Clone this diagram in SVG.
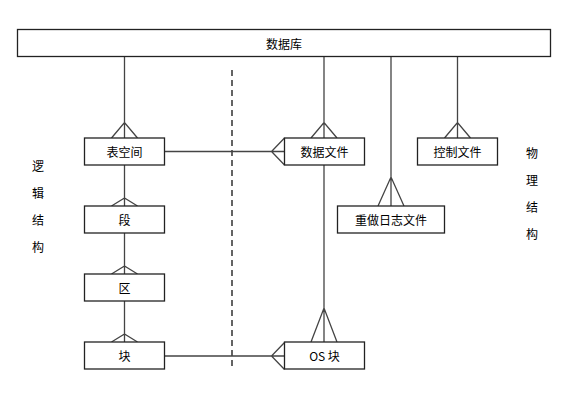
<svg xmlns="http://www.w3.org/2000/svg" width="582" height="400" viewBox="0 0 582 400">
<style>
.box{fill:#fff;stroke:#222;stroke-width:1.3}
.ln{fill:none;stroke:#444;stroke-width:1.3}
.dash{fill:none;stroke:#111;stroke-width:1.3;stroke-dasharray:6,4}
text{font-family:"Noto Sans CJK SC","Liberation Sans",sans-serif;font-size:12px;fill:#000;text-anchor:middle;dominant-baseline:central}
</style>
<rect width="582" height="400" fill="#fff"/>
<g id="connectors">
<path class="dash" d="M232 70V370"/>
<path class="ln" d="M124.5 56V138M111.5 138L124.5 122.5L137.5 138"/>
<path class="ln" d="M124.5 165V206M111.5 206L124.5 198L137.5 206"/>
<path class="ln" d="M124.5 233V274M111.5 274L124.5 266L137.5 274"/>
<path class="ln" d="M124.5 301V342M111.5 342L124.5 334L137.5 342"/>
<path class="ln" d="M324 56V138M311 138L324 122.5L337 138"/>
<path class="ln" d="M391 56V206M378 206L391 177L404 206"/>
<path class="ln" d="M457.5 56V138M444.5 138L457.5 122.5L470.5 138"/>
<path class="ln" d="M324 165V342M311 342L324 308L337 342"/>
<path class="ln" d="M164.5 151.5H284.5M284.5 138L271.5 151.5L284.5 165"/>
<path class="ln" d="M164.5 356H284.5M284.5 342.5L271.5 356L284.5 369.5"/>
</g>
<g id="db"><rect class="box" x="17.5" y="29.5" width="533" height="27"/><text x="284" y="43">数据库</text></g>
<g id="tablespace"><rect class="box" x="84.5" y="138" width="80" height="27"/><text x="124.5" y="151.5">表空间</text></g>
<g id="segment"><rect class="box" x="84.5" y="206" width="80" height="27"/><text x="124.5" y="219.5">段</text></g>
<g id="extent"><rect class="box" x="84.5" y="274" width="80" height="27"/><text x="124.5" y="287.5">区</text></g>
<g id="block"><rect class="box" x="84.5" y="342" width="80" height="27"/><text x="124.5" y="355.5">块</text></g>
<g id="datafile"><rect class="box" x="284.5" y="138" width="80" height="27"/><text x="324.5" y="151.5">数据文件</text></g>
<g id="controlfile"><rect class="box" x="417.5" y="138" width="80" height="27"/><text x="457.5" y="151.5">控制文件</text></g>
<g id="redolog"><rect class="box" x="337.5" y="206" width="107" height="27"/><text x="391" y="219.5">重做日志文件</text></g>
<g id="osblock"><rect class="box" x="284.5" y="342" width="80" height="27"/><text x="324.5" y="355.5">OS 块</text></g>
<g id="logical"><text x="38" y="165.5">逻</text><text x="38" y="192">辑</text><text x="38" y="219">结</text><text x="38" y="246">构</text></g>
<g id="physical"><text x="532" y="152.5">物</text><text x="532" y="179.5">理</text><text x="532" y="206.5">结</text><text x="532" y="233.5">构</text></g>
</svg>
